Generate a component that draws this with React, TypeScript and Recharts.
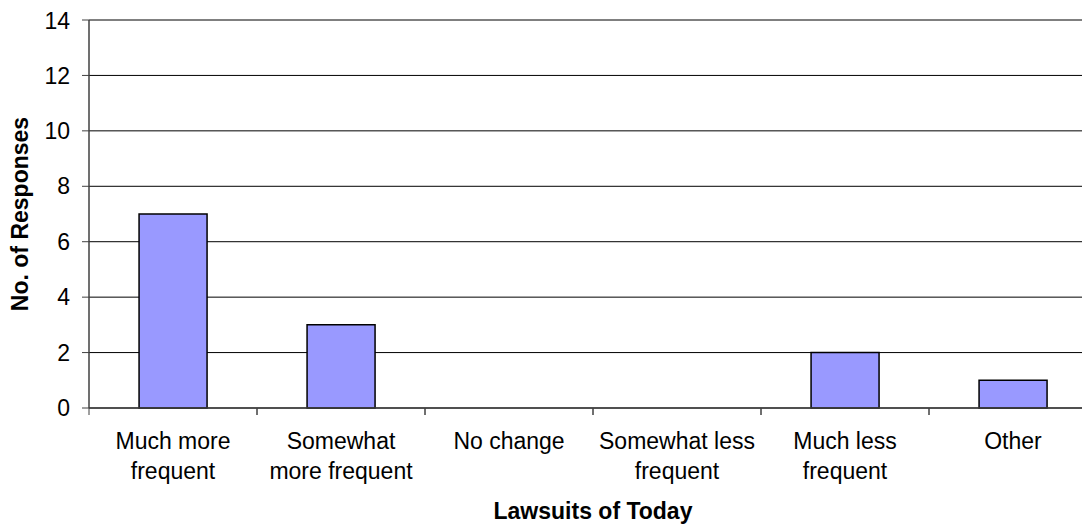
import { Bar, BarChart, CartesianGrid, XAxis, YAxis } from 'recharts'

const categories = [
  'Much more frequent',
  'Somewhat more frequent',
  'No change',
  'Somewhat less frequent',
  'Much less frequent',
  'Other',
]
const labelLines = [
  ['Much more', 'frequent'],
  ['Somewhat', 'more frequent'],
  ['No change'],
  ['Somewhat less', 'frequent'],
  ['Much less', 'frequent'],
  ['Other'],
]
const responses = [7, 3, 0, 0, 2, 1]
const yTicks = [0, 2, 4, 6, 8, 10, 12, 14]

const font = '"Liberation Sans", Arial, sans-serif'

const data = categories.map((name, i) => ({ name, lines: labelLines[i], value: responses[i] }))

// category ticks sit on the boundaries between bands, like the Excel original
const CategoryTick = (props: any) => {
  const { x, y, index, payload } = props
  const lines = labelLines[index] || []
  const off = payload && payload.offset ? payload.offset : 84
  return (
    <g>
      <line x1={x - off} x2={x - off} y1={y} y2={y + 7} stroke="#404040" strokeWidth={1} />
      <line x1={x + off} x2={x + off} y1={y} y2={y + 7} stroke="#404040" strokeWidth={1} />
      <text x={x} y={y} textAnchor="middle" fontFamily={font} fontSize={23} fill="#000">
        {lines.map((line, i) => (
          <tspan key={i} x={x} dy={i === 0 ? 41 : 30}>
            {line}
          </tspan>
        ))}
      </text>
    </g>
  )
}

const XTitle = (props: any) => {
  const { viewBox } = props
  return (
    <text
      x={viewBox.x + viewBox.width / 2}
      y={519 - 8}
      textAnchor="middle"
      fontFamily={font}
      fontSize={23}
      fontWeight="bold"
      fill="#000"
    >
      Lawsuits of Today
    </text>
  )
}

const YTitle = (props: any) => {
  const { viewBox } = props
  const cy = viewBox.y + viewBox.height / 2
  return (
    <text
      x={12}
      y={cy}
      transform={`rotate(-90, 12, ${cy})`}
      textAnchor="middle"
      dominantBaseline="central"
      fontFamily={font}
      fontSize={23}
      fontWeight="bold"
      fill="#000"
    >
      No. of Responses
    </text>
  )
}

export default function App() {
  return (
    <div style={{ width: 1082, height: 517, overflow: 'hidden', background: '#fff' }}>
      <BarChart
        width={1100}
        height={517}
        data={data}
        margin={{ top: 12, right: 11, bottom: 0, left: 0 }}
        barCategoryGap="29.8%"
      >
        <CartesianGrid vertical={false} stroke="#000" strokeWidth={1} />
        <XAxis
          dataKey="name"
          interval={0}
          height={117}
          tick={<CategoryTick />}
          tickSize={0}
          tickMargin={0}
          tickLine={false}
          axisLine={{ stroke: '#404040', strokeWidth: 1.5 }}
          label={<XTitle />}
        />
        <YAxis
          domain={[0, 14]}
          ticks={yTicks}
          width={81}
          tickSize={7}
          tickMargin={12}
          tick={{ fill: '#000', fontSize: 23, fontFamily: font }}
          axisLine={{ stroke: '#404040', strokeWidth: 1.5 }}
          tickLine={{ stroke: '#404040' }}
          label={<YTitle />}
          allowDecimals={false}
        />
        <Bar
          dataKey="value"
          fill="#9999FF"
          stroke="#000"
          strokeWidth={1.5}
          isAnimationActive={false}
        />
      </BarChart>
    </div>
  )
}
